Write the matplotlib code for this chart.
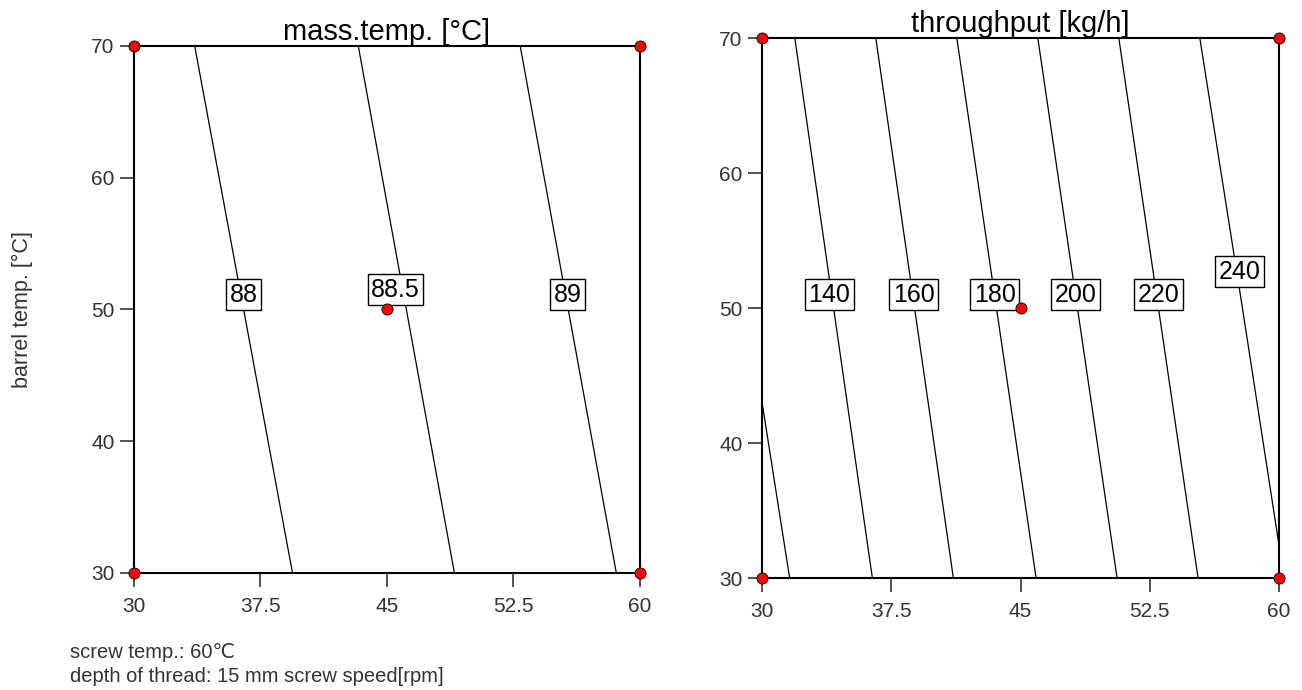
import numpy as np
import matplotlib.pyplot as plt

plt.rcParams['font.family'] = ['Liberation Sans', 'DejaVu Sans']

# design points (screw speed [rpm], barrel temp. [°C])
pts_x = [30, 30, 60, 60, 45]
pts_y = [30, 70, 30, 70, 50]

# mass.temp. contour lines: x where each line meets y=70 (top) and y=30 (bottom)
mt_levels = ['88', '88.5', '89']
mt_x_top = [33.6, 43.3, 52.9]
mt_x_bot = [39.4, 49.0, 58.6]
mt_lab_x = [36.5, 45.5, 55.7]
mt_lab_y = [51.1, 51.5, 51.1]

# throughput contour lines (polylines in data coords)
tp_levels = ['120', '140', '160', '180', '200', '220', '240']
tp_line_x = [[30.0, 31.6], [31.9, 36.4], [36.6, 41.1], [41.3, 45.9],
             [46.0, 50.6], [50.7, 55.3], [55.4, 57.8, 60.0]]
tp_line_y = [[43.0, 30.0], [70, 30], [70, 30], [70, 30],
             [70, 30], [70, 30], [70, 50.6, 32.4]]
tp_lab_x = [None, 33.9, 38.8, 43.5, 48.2, 53.0, 57.7]
tp_lab_y = [None, 51.0, 51.0, 51.0, 51.0, 51.0, 52.7]

x_ticks = [30, 37.5, 45, 52.5, 60]
x_tick_labels = ['30', '37.5', '45', '52.5', '60']
y_ticks = [30, 40, 50, 60, 70]

fig = plt.figure(figsize=(13.02, 6.9), dpi=100)
ax1 = fig.add_axes([0.1029, 0.1696, 0.3886, 0.7638])
ax2 = fig.add_axes([0.5853, 0.1623, 0.3971, 0.7826])


def style_axes(ax, title):
    ax.set_xlim(30, 60)
    ax.set_ylim(30, 70)
    ax.set_xticks(x_ticks)
    ax.set_xticklabels(x_tick_labels)
    ax.set_yticks(y_ticks)
    ax.tick_params(direction='out', length=10, width=1.2, labelsize=15,
                   color='#333333', labelcolor='#333333')
    ax.tick_params(axis='x', pad=7)
    ax.tick_params(axis='y', pad=4)
    for sp in ax.spines.values():
        sp.set_linewidth(1.5)
    ax.set_title(title, fontsize=21, pad=-1)
    ax.plot(pts_x, pts_y, 'o', color='red', mec='black', mew=0.6, ms=8,
            clip_on=False, zorder=6)


box = dict(boxstyle='square,pad=0.14', fc='white', ec='black', lw=1)

# left: mass temperature
style_axes(ax1, 'mass.temp. [°C]')
for xt, xb in zip(mt_x_top, mt_x_bot):
    ax1.plot([xt, xb], [70, 30], color='black', lw=0.9)
for lev, lx, ly in zip(mt_levels, mt_lab_x, mt_lab_y):
    ax1.text(lx, ly, lev, fontsize=18, ha='center', va='center',
             bbox=box, zorder=5)
ax1.set_ylabel('barrel temp. [°C]', fontsize=15.5, labelpad=42, color='#333333')

# right: throughput
style_axes(ax2, 'throughput [kg/h]')
for lx, ly in zip(tp_line_x, tp_line_y):
    ax2.plot(lx, ly, color='black', lw=0.9)
for lev, lx, ly in zip(tp_levels, tp_lab_x, tp_lab_y):
    if lx is None:
        continue
    ax2.text(lx, ly, lev, fontsize=18, ha='center', va='center',
             bbox=box, zorder=5)

fig.text(70 / 1302, 1 - 652 / 690, 'screw temp.: 60℃', fontsize=14.5,
         va='center', color='#333333')
fig.text(70 / 1302, 1 - 677 / 690, 'depth of thread: 15 mm screw speed[rpm]',
         fontsize=14.5, va='center', color='#333333')

fig.savefig('out.png', dpi=100)
